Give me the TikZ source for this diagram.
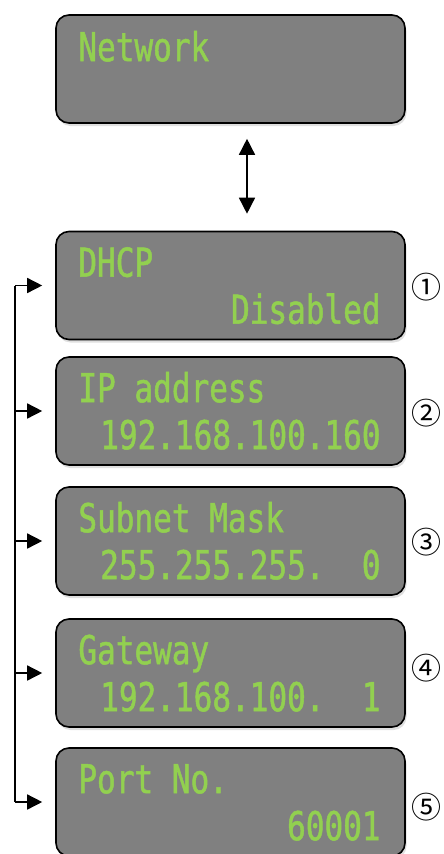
\documentclass[tikz,border=0pt]{standalone}
\usepackage{fontspec}
\usetikzlibrary{arrows.meta,shadows}
\newfontfamily\lcdfont[FakeStretch=0.78,FakeBold=1.2]{DejaVu Sans Mono}
\newfontfamily\numfont{Noto Sans CJK JP}
\definecolor{lcdgreen}{RGB}{146,208,80}
\definecolor{lcdgray}{RGB}{128,128,128}
\tikzset{
  lcdbox/.style={draw=black, line width=1.6pt, fill=lcdgray, rounded corners=13pt,
    minimum width=349pt, minimum height=108pt, inner sep=0pt,
    drop shadow={opacity=0.25, shadow xshift=1.5pt, shadow yshift=-3pt}},
  lcdtext/.style={text=lcdgreen, font=\lcdfont\fontsize{39.8}{40}\selectfont, inner sep=0pt},
  circnum/.style={font=\numfont\fontsize{30}{30}\selectfont, inner sep=0pt},
  conn/.style={line width=1.5pt, -{Triangle[length=15pt,width=15pt]}},
  dconn/.style={line width=1.5pt, {Triangle[length=16pt,width=16pt]}-{Triangle[length=16pt,width=16pt]}},
  busline/.style={line width=1.5pt},
}
\begin{document}
\begin{tikzpicture}[x=1pt,y=-1pt]
\useasboundingbox[fill=white] (0,0) rectangle (444,854);
\node[lcdbox] (net) at (230.5,69) {};
\node[lcdbox] (dhcp) at (230.5,285.5) {};
\node[lcdbox] (ip) at (230.5,411) {};
\node[lcdbox] (mask) at (230.5,541) {};
\node[lcdbox] (gw) at (230.5,673) {};
\node[lcdbox] (port) at (230.5,802) {};
% texts
\path (net.north west) ++(23,47) node[lcdtext, anchor=base west] (t0) {Network};
\path (dhcp.north west) ++(23,46) node[lcdtext, anchor=base west] (t1a) {DHCP};
\path (dhcp.north east) ++(-25,93) node[lcdtext, anchor=base east] (t1b) {Disabled};
\path (ip.north west) ++(23,46) node[lcdtext, anchor=base west] (t2a) {IP\phantom{0}address};
\path (ip.north east) ++(-25,93) node[lcdtext, anchor=base east] (t2b) {192.168.100.160};
\path (mask.north west) ++(23,46) node[lcdtext, anchor=base west] (t3a) {Subnet\phantom{0}Mask};
\path (mask.north east) ++(-25,93) node[lcdtext, anchor=base east] (t3b) {255.255.255.\phantom{00}0};
\path (gw.north west) ++(23,46) node[lcdtext, anchor=base west] (t4a) {Gateway};
\path (gw.north east) ++(-25,93) node[lcdtext, anchor=base east] (t4b) {192.168.100.\phantom{00}1};
\path (port.north west) ++(23,46) node[lcdtext, anchor=base west] (t5a) {Port\phantom{0}No.};
\path (port.north east) ++(-25,93) node[lcdtext, anchor=base east] (t5b) {60001};
% circled numbers
\node[circnum] (c1) at ([xshift=21pt,yshift=-2pt]dhcp.east) {①};
\node[circnum] (c2) at ([xshift=21pt,yshift=-2pt]ip.east) {②};
\node[circnum] (c3) at ([xshift=21pt,yshift=-1pt]mask.east) {③};
\node[circnum] (c4) at ([xshift=21pt,yshift=5pt]gw.east) {④};
\node[circnum] (c5) at ([xshift=21pt,yshift=-5pt]port.east) {⑤};
% connectors
\draw[dconn, shorten <=15pt, shorten >=17pt] (net.south -| 247,0) -- (dhcp.north -| 247,0);
\coordinate (bus) at (15,0);
\draw[busline] (dhcp.west -| bus) -- (port.west -| bus);
\foreach \b in {dhcp,ip,mask,gw,port}{
  \draw[conn, shorten >=13pt] (\b.west -| bus) -- (\b.west);
}
\end{tikzpicture}
\end{document}
